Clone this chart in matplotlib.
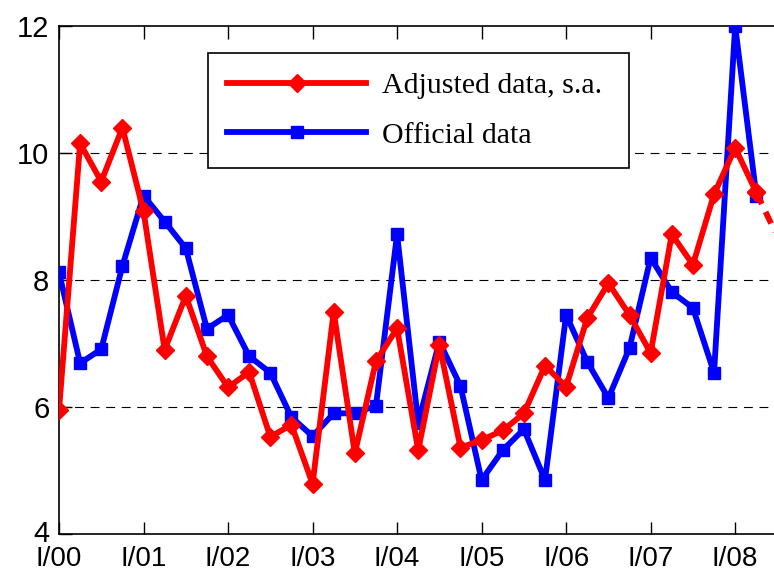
import numpy as np
import matplotlib
matplotlib.use("Agg")
import matplotlib.pyplot as plt
import matplotlib.transforms as mtransforms
from matplotlib.lines import Line2D

# quarterly data, I/00 .. II/08 (+ one projected quarter for the adjusted series)
ajustado = [5.95, 10.15, 9.55, 10.4, 9.08, 6.9, 7.75, 6.8, 6.31, 6.55,
            5.53, 5.72, 4.79, 7.5, 5.27, 6.72, 7.24, 5.32, 6.98, 5.36,
            5.48, 5.63, 5.9, 6.65, 6.32, 7.4, 7.95, 7.45, 6.85, 8.72,
            8.24, 9.35, 10.08, 9.38, 8.68]
oficial = [8.12, 6.69, 6.91, 8.22, 9.33, 8.92, 8.5, 7.23, 7.45, 6.8,
           6.54, 5.84, 5.54, 5.9, 5.9, 6.02, 8.72, 5.75, 7.03, 6.33,
           4.85, 5.32, 5.65, 4.85, 7.45, 6.71, 6.14, 6.93, 8.35, 7.81,
           7.56, 6.54, 12.0, 9.33]
etiquetas = ["I/00", "I/01", "I/02", "I/03", "I/04", "I/05", "I/06", "I/07", "I/08"]

t_aj = np.arange(len(ajustado))
t_of = np.arange(len(oficial))

fig = plt.figure(figsize=(7.74, 5.74), dpi=100)
ax = fig.add_axes([59/774, 1 - 534/574, (788 - 59)/774, (534 - 26)/574])

for yv in [6, 8, 10]:
    ax.axhline(yv, color='black', lw=0.8, ls=(0, (8, 6)), zorder=1)

ax.plot(t_of, oficial, color='blue', lw=4.2, marker='s', ms=9, zorder=3)
n = len(ajustado) - 1
ax.plot(t_aj[:n], ajustado[:n], color='red', lw=4.2, marker='D', ms=9, zorder=4)
ax.plot(t_aj[n-1:], ajustado[n-1:], color='red', lw=4.2, ls=(0, (2.2, 1.5)), zorder=4)
ax.plot(t_aj[n-1:n], ajustado[n-1:n], color='red', marker='D', ms=9, ls='none', zorder=5)

ax.set_xlim(0, 34.5)
ax.set_ylim(4, 12)
ax.set_yticks([4, 6, 8, 10, 12])
ax.set_xticks(np.arange(0, 33, 4))
ax.set_xticklabels(etiquetas)
ax.tick_params(direction='in', length=9, width=1, top=True, labelsize=21,
               labelfontfamily='Liberation Sans')
ax.tick_params(axis='x', pad=8.5, labelsize=20)
ax.tick_params(axis='y', pad=7)
for s in ax.spines.values():
    s.set_linewidth(1.2)

# nudge the lowest y label up a little so it does not touch I/00
lab4 = ax.yaxis.get_major_ticks()[0].label1
lab4.set_transform(mtransforms.offset_copy(lab4.get_transform(), fig, y=3, units='dots'))

handles = [Line2D([], [], color='red', lw=4.2, marker='D', ms=9),
           Line2D([], [], color='blue', lw=4.2, marker='s', ms=9)]
leg = ax.legend(handles, ['Adjusted data, s.a. ', 'Official data'],
                loc='upper left', bbox_to_anchor=(0.204, 0.947), borderaxespad=0,
                prop={'family': 'Liberation Serif', 'size': 21.5}, fancybox=False,
                edgecolor='black', framealpha=1, handlelength=4.65, handletextpad=0.53,
                borderpad=0.65, labelspacing=0.75)
leg.get_frame().set_linewidth(1.2)

fig.savefig('out.png', dpi=100)
